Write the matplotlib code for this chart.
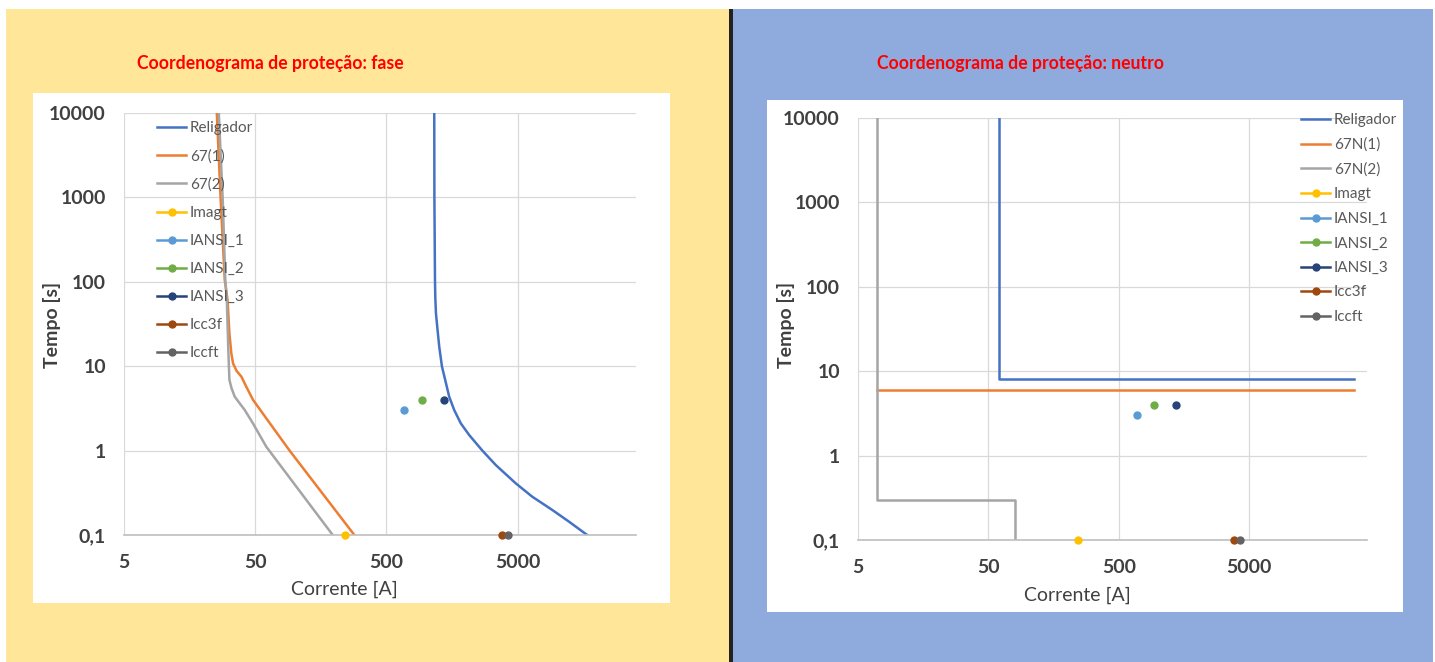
import matplotlib.pyplot as plt
from matplotlib.patches import Rectangle
from matplotlib.ticker import NullLocator

plt.rcParams['font.family'] = ['Lato', 'DejaVu Sans']

# eixos
tempo_ticks = [0.1, 1, 10, 100, 1000, 10000]
tempo_labels = ['0,1', '1', '10', '100', '1000', '10000']
corrente_ticks = [5, 50, 500, 5000]
corrente_labels = ['5', '50', '500', '5000']

# curvas de fase
religador_fase_i = [1159, 1162, 1174, 1180, 1194, 1228, 1265, 1327, 1405, 1506, 1644, 1848,
                    2139, 2697, 3411, 4840, 6480, 9200, 12330, 16980]
religador_fase_t = [10000, 1000, 105, 66.7, 42.4, 26.9, 17.0, 9.9, 6.86, 4.36, 3.03, 2.1,
                    1.53, 1.0, 0.675, 0.41, 0.284, 0.198, 0.144, 0.1]
f67_1_i = [25.5, 27.3, 29.3, 30.8, 31.8, 32.9, 33.9, 36.0, 39.3, 42.8, 48.1, 60.8, 91.5, 285]
f67_1_t = [10000, 930, 105, 60.8, 24.5, 14.2, 10.8, 8.85, 7.5, 5.7, 4.0, 2.41, 1.0, 0.1]
f67_2_i = [26.4, 28.3, 29.6, 30.4, 31.2, 31.8, 33.0, 34.9, 38.1, 41.6, 48.1, 60.8, 195]
f67_2_t = [10000, 930, 105, 60.8, 15.6, 6.9, 5.5, 4.36, 3.63, 3.03, 2.1, 1.11, 0.1]

# curvas de neutro
religador_neutro_i = [60, 60, 32000]
religador_neutro_t = [10000, 8, 8]
n67_1_i = [7, 32000]
n67_1_t = [6, 6]
n67_2_i = [7, 7, 80, 80]
n67_2_t = [10000, 0.3, 0.3, 0.1]

# pontos
pontos_nome = ['Imagt', 'IANSI_1', 'IANSI_2', 'IANSI_3', 'Icc3f', 'Iccft']
pontos_i = [243, 685, 935, 1375, 3820, 4250]
pontos_t = [0.1, 3, 4, 4, 0.1, 0.1]
pontos_cor = ['#FFC000', '#5B9BD5', '#70AD47', '#264478', '#9E480E', '#636363']

cor_religador = '#4472C4'
cor_67_1 = '#ED7D31'
cor_67_2 = '#A5A5A5'


def desenhar(ax, curvas, leg_pos, leg_spacing):
    for (xi, yt, cor, nome) in curvas:
        ax.plot(xi, yt, color=cor, lw=1.8, label=nome, solid_joinstyle='round')
    for nome, xi, yt, cor in zip(pontos_nome, pontos_i, pontos_t, pontos_cor):
        ax.plot([xi], [yt], '-o', color=cor, lw=1.8, ms=5, label=nome, clip_on=False, zorder=5)
    ax.set_xscale('log')
    ax.set_yscale('log')
    ax.set_xlim(5, 40000)
    ax.set_ylim(0.1, 10000)
    ax.set_xticks(corrente_ticks, labels=corrente_labels)
    ax.set_yticks(tempo_ticks, labels=tempo_labels)
    ax.xaxis.set_minor_locator(NullLocator())
    ax.yaxis.set_minor_locator(NullLocator())
    ax.tick_params(length=0, labelsize=14, labelcolor='#404040')
    ax.tick_params(axis='x', pad=13.5)
    ax.tick_params(axis='y', pad=13)
    for lbl in ax.get_xticklabels() + ax.get_yticklabels():
        lbl.set_fontweight('bold')
    ax.grid(True, color='#D9D9D9', lw=0.9)
    for s in ['top', 'right', 'left']:
        ax.spines[s].set_visible(False)
    ax.spines['bottom'].set_color('#BFBFBF')
    ax.spines['bottom'].set_linewidth(1.2)
    ax.set_axisbelow(True)
    leg = ax.legend(loc='upper left', bbox_to_anchor=leg_pos, bbox_transform=fig.transFigure,
                    frameon=False, fontsize=11, handlelength=1.9, handletextpad=0.25,
                    labelspacing=leg_spacing, borderpad=0, borderaxespad=0, numpoints=1)
    for t in leg.get_texts():
        t.set_color('#595959')


fig = plt.figure(figsize=(14.35, 6.62), dpi=100)
W, H = 1435, 662


def ret(x0, y0, x1, y1, cor):
    fig.add_artist(Rectangle((x0 / W, 1 - y1 / H), (x1 - x0) / W, (y1 - y0) / H,
                             transform=fig.transFigure, facecolor=cor, edgecolor='none', zorder=0))


ret(6, 9, 729, 662, '#FFE699')
ret(733, 9, 1433, 662, '#8FAADC')
ret(729, 9, 733, 662, '#222222')
ret(33, 93, 670, 603, 'white')
ret(767, 100, 1403, 612, 'white')

ax1 = fig.add_axes([124 / W, 1 - 535 / H, 512 / W, 422 / H])
ax2 = fig.add_axes([858 / W, 1 - 540 / H, 509 / W, 422 / H])
ax1.patch.set_alpha(0)
ax2.patch.set_alpha(0)

desenhar(ax1, [(religador_fase_i, religador_fase_t, cor_religador, 'Religador'),
               (f67_1_i, f67_1_t, cor_67_1, '67(1)'),
               (f67_2_i, f67_2_t, cor_67_2, '67(2)')],
         (157 / W, 1 - 121 / H), 0.92)
desenhar(ax2, [(religador_neutro_i, religador_neutro_t, cor_religador, 'Religador'),
               (n67_1_i, n67_1_t, cor_67_1, '67N(1)'),
               (n67_2_i, n67_2_t, cor_67_2, '67N(2)')],
         (1301 / W, 1 - 113 / H), 0.69)

fig.text(270 / W, 1 - 63 / H, 'Coordenograma de proteção: fase', color='#FF0000',
         fontsize=12.7, fontweight='bold', ha='center', va='center')
fig.text(1021 / W, 1 - 63 / H, 'Coordenograma de proteção: neutro', color='#FF0000',
         fontsize=12.7, fontweight='bold', ha='center', va='center')

fig.text(52 / W, 1 - 325 / H, 'Tempo [s]', rotation=90, fontsize=14, fontweight='bold',
         color='#404040', ha='center', va='center')
fig.text(344 / W, 1 - 589 / H, 'Corrente [A]', fontsize=14, color='#404040',
         ha='center', va='center')
fig.text(786 / W, 1 - 325 / H, 'Tempo [s]', rotation=90, fontsize=14, fontweight='bold',
         color='#404040', ha='center', va='center')
fig.text(1077 / W, 1 - 595 / H, 'Corrente [A]', fontsize=14, color='#404040',
         ha='center', va='center')

fig.savefig('out.png', dpi=100)
